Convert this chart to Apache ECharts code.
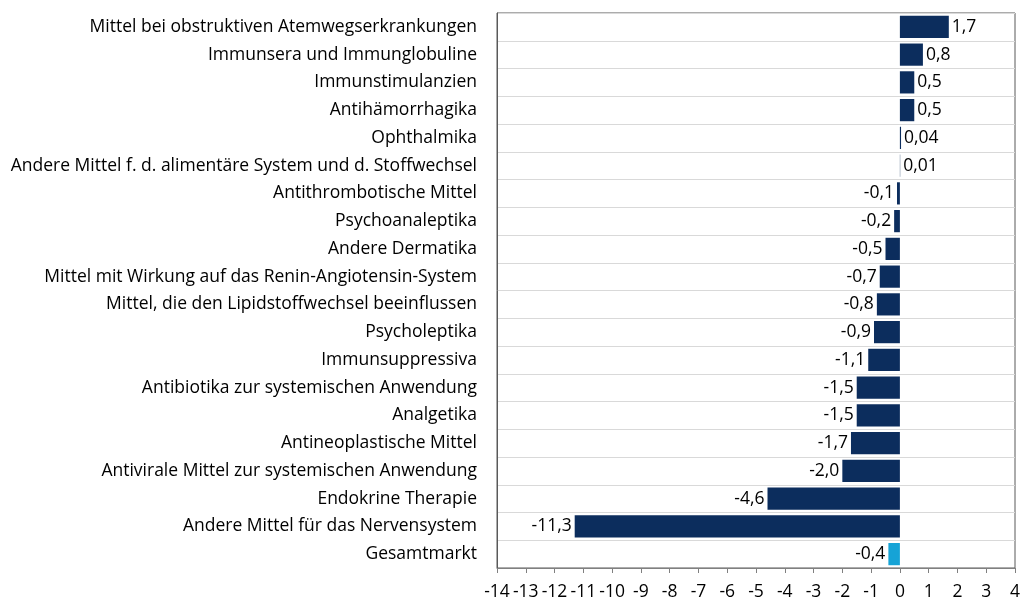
<!DOCTYPE html>
<html>
<head>
<meta charset="utf-8">
<title>Veränderung nach Indikationsgruppen</title>
<script src="https://cdn.jsdelivr.net/npm/echarts@6/dist/echarts.min.js"></script>
<style>
html, body { margin: 0; padding: 0; background: #fff; }
#chart { width: 1024px; height: 603px; }
</style>
</head>
<body>
<div id="chart"></div>
<script type="text/javascript">
// Daten
var categories = [
    'Mittel bei obstruktiven Atemwegserkrankungen',
    'Immunsera und Immunglobuline',
    'Immunstimulanzien',
    'Antihämorrhagika',
    'Ophthalmika',
    'Andere Mittel f. d. alimentäre System und d. Stoffwechsel',
    'Antithrombotische Mittel',
    'Psychoanaleptika',
    'Andere Dermatika',
    'Mittel mit Wirkung auf das Renin-Angiotensin-System',
    'Mittel, die den Lipidstoffwechsel beeinflussen',
    'Psycholeptika',
    'Immunsuppressiva',
    'Antibiotika zur systemischen Anwendung',
    'Analgetika',
    'Antineoplastische Mittel',
    'Antivirale Mittel zur systemischen Anwendung',
    'Endokrine Therapie',
    'Andere Mittel für das Nervensystem',
    'Gesamtmarkt'
];
var values = [1.7, 0.8, 0.5, 0.5, 0.04, 0.01, -0.1, -0.2, -0.5, -0.7, -0.8, -0.9, -1.1, -1.5, -1.5, -1.7, -2.0, -4.6, -11.3, -0.4];
var axisMin = -14;
var axisMax = 4;

var fontFamily = '"Open Sans", "Noto Sans", sans-serif';
var fontSize = 17.5;

function fmt(v) {
    var s = (v !== 0 && Math.abs(v) < 0.1) ? v.toFixed(2) : v.toFixed(1);
    return s.replace('.', ',');
}

var seriesData = values.map(function (v, i) {
    var isTotal = categories[i] === 'Gesamtmarkt';
    return {
        value: v,
        itemStyle: { color: isTotal ? '#16a3d6' : '#0c2d5d' },
        label: { position: v < 0 ? 'left' : 'right' }
    };
});

var chart = echarts.init(document.getElementById('chart'));
chart.setOption({
    animation: false,
    grid: {
        left: 497,
        right: 9,
        top: 13,
        bottom: 35,
        show: true,
        borderColor: '#595959',
        borderWidth: 1
    },
    xAxis: {
        type: 'value',
        min: axisMin,
        max: axisMax,
        interval: 1,
        splitLine: { show: false },
        axisLine: { show: true, lineStyle: { color: '#808080' } },
        axisTick: { show: true, length: 5, lineStyle: { color: '#808080' } },
        axisLabel: {
            color: '#000',
            fontFamily: fontFamily,
            fontSize: fontSize,
            margin: 15
        }
    },
    yAxis: {
        type: 'category',
        inverse: true,
        data: categories,
        axisLine: { show: true, onZero: false, lineStyle: { color: '#595959' } },
        axisTick: { show: false },
        splitLine: { show: true, lineStyle: { color: '#d9d9d9' } },
        axisLabel: {
            color: '#000',
            fontFamily: fontFamily,
            fontSize: fontSize,
            margin: 20
        }
    },
    series: [{
        type: 'bar',
        data: seriesData,
        barCategoryGap: '20%',
        label: {
            show: true,
            color: '#000',
            fontFamily: fontFamily,
            fontSize: fontSize,
            distance: 3,
            formatter: function (p) { return fmt(p.value); }
        }
    }]
});
</script>
</body>
</html>
